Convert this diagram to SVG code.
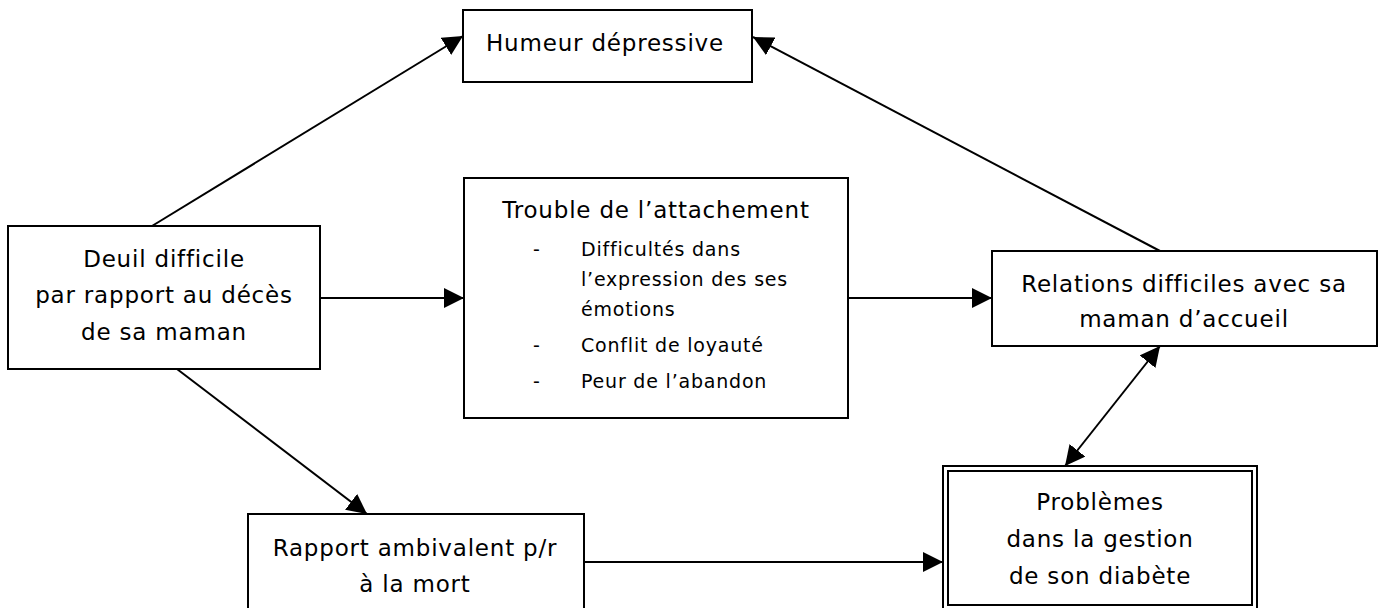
<svg xmlns="http://www.w3.org/2000/svg" width="1384" height="608" viewBox="0 0 1384 608">
<style>
.box{fill:#fff;stroke:#000;stroke-width:2}
.t{font-family:"DejaVu Sans",sans-serif;font-size:23px;letter-spacing:0.8px;fill:#000}
.c{text-anchor:middle}
.s{font-family:"DejaVu Sans",sans-serif;font-size:19px;letter-spacing:0.8px;fill:#000}
.ln{stroke:#000;stroke-width:2;fill:none}
</style>
<defs>
<marker id="ah" markerUnits="userSpaceOnUse" markerWidth="20" markerHeight="20" viewBox="0 0 20 20" refX="20" refY="10" orient="auto-start-reverse">
<path d="M0,0 L20,10 L0,20 Z" fill="#000"/>
</marker>
</defs>
<rect width="1384" height="608" fill="#fff"/>
<g id="connectors">
<line class="ln" x1="152" y1="226" x2="463" y2="36" marker-end="url(#ah)"/>
<line class="ln" x1="1160" y1="251" x2="753" y2="37" marker-end="url(#ah)"/>
<line class="ln" x1="320" y1="298" x2="464" y2="298" marker-end="url(#ah)"/>
<line class="ln" x1="848" y1="298" x2="992" y2="298" marker-end="url(#ah)"/>
<line class="ln" x1="177" y1="369" x2="367" y2="514" marker-end="url(#ah)"/>
<line class="ln" x1="584" y1="562" x2="943" y2="562" marker-end="url(#ah)"/>
<line class="ln" x1="1160" y1="346" x2="1065" y2="466" marker-start="url(#ah)" marker-end="url(#ah)"/>
</g>
<g id="humeur">
<rect class="box" x="463" y="10" width="289" height="72"/>
<text class="t c" x="605" y="51">Humeur dépressive</text>
</g>
<g id="deuil">
<rect class="box" x="8" y="226" width="312" height="143"/>
<text class="t c" x="164" y="267">Deuil difficile</text>
<text class="t c" x="164" y="303">par rapport au décès</text>
<text class="t c" x="164" y="340">de sa maman</text>
</g>
<g id="trouble">
<rect class="box" x="464" y="178" width="384" height="240"/>
<text class="t c" x="656" y="218">Trouble de l’attachement</text>
<text class="s" x="533" y="256">-</text>
<text class="s" x="581" y="256">Difficultés dans</text>
<text class="s" x="581" y="286">l’expression des ses</text>
<text class="s" x="581" y="316">émotions</text>
<text class="s" x="533" y="352">-</text>
<text class="s" x="581" y="352">Conflit de loyauté</text>
<text class="s" x="533" y="388">-</text>
<text class="s" x="581" y="388">Peur de l’abandon</text>
</g>
<g id="relations">
<rect class="box" x="992" y="251" width="385" height="95"/>
<text class="t c" x="1184" y="292">Relations difficiles avec sa</text>
<text class="t c" x="1184" y="327">maman d’accueil</text>
</g>
<g id="rapport">
<rect class="box" x="248" y="514" width="336" height="110"/>
<text class="t c" x="415" y="556">Rapport ambivalent p/r</text>
<text class="t c" x="415" y="592">à la mort</text>
</g>
<g id="problemes">
<rect class="box" x="943" y="466" width="314" height="150"/>
<rect class="box" x="948" y="471" width="304" height="134"/>
<text class="t c" x="1100" y="510">Problèmes</text>
<text class="t c" x="1100" y="547">dans la gestion</text>
<text class="t c" x="1100" y="584">de son diabète</text>
</g>
</svg>
